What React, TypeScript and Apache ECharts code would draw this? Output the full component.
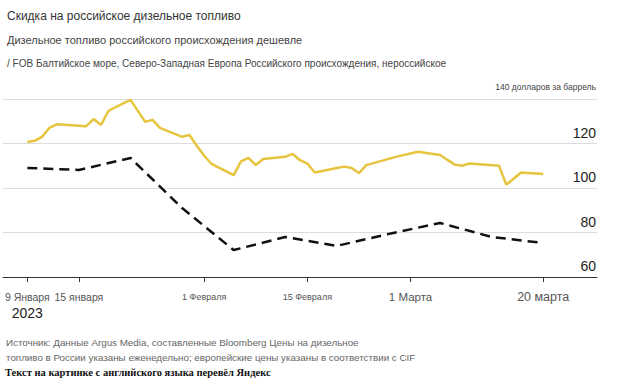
import React, { useEffect, useRef } from "react";
import * as echarts from "echarts";

// X axis: days counted from 9 January 2023
const tickDays = [0, 7, 24, 38, 52, 70];
const tickLabels = ["9 Января", "15 января", "1 Февраля", "15 Февраля", "1 Марта", "20 марта"];
const yearLabel = "2023";

// Northwest Europe diesel, non-Russian origin (daily)
const europeDays = [0, 1, 2, 3, 4, 7, 8, 9, 10, 11, 12, 14, 16, 17, 18, 21, 22, 23, 24, 25, 28, 29, 30, 31, 32, 35, 36, 37, 38, 39, 42, 43, 44, 45, 46, 50, 53, 56, 58, 59, 60, 64, 65, 67, 70];
const europeValues = [120.7, 121.2, 123, 127, 128.6, 128, 127.8, 131, 128.3, 134.6, 136.4, 139.6, 129.7, 130.6, 127, 123, 123.8, 119, 114.5, 110.8, 105.8, 112, 113.5, 110.3, 113, 114, 115.3, 112.5, 111, 107, 109, 109.6, 109, 106.7, 110.3, 114, 116.3, 114.8, 110.5, 110, 111, 110, 101.5, 107, 106.3];

// Baltic FOB, Russian origin (weekly)
const russiaDays = [0, 7, 14, 21, 28, 35, 42, 49, 56, 63, 70];
const russiaValues = [109, 108.1, 113.5, 91, 72.1, 78, 74, 79.3, 84.3, 78, 75.3];

// Y axis
const yMin = 60;
const yMax = 140;
const yStep = 20;
const yTopUnit = "долларов за баррель";

const titleText = "Скидка на российское дизельное топливо";
const subtitle1 = "Дизельное топливо российского происхождения дешевле";
const subtitle2 = "/ FOB Балтийское море, Северо-Западная Европа Российского происхождения, нероссийское";
const source1 = "Источник: Данные Argus Media, составленные Bloomberg Цены на дизельное";
const source2 = "топливо в России указаны еженедельно; европейские цены указаны в соответствии с CIF";
const credit = "Текст на картинке с английского языка перевёл Яндекс";

const SANS = "'Liberation Sans', Arial, Helvetica, sans-serif";
const SERIF = "'Liberation Serif', 'Times New Roman', serif";

export default function App() {
  const ref = useRef<HTMLDivElement>(null);

  useEffect(() => {
    if (!ref.current) return;
    const chart = echarts.init(ref.current, undefined, { renderer: "svg" });
    const labelStyleKeys = ["a", "a", "b", "b", "c", "d"];

    const option: any = {
      animation: false,
      backgroundColor: "#ffffff",
      textStyle: { fontFamily: SANS },
      title: [
        { text: titleText, left: 2, top: 5, textStyle: { fontSize: 12, fontWeight: "normal", color: "#333", fontFamily: SANS } },
        { text: subtitle1, left: 2, top: 29, textStyle: { fontSize: 11, fontWeight: "normal", color: "#444", fontFamily: SANS } },
        { text: subtitle2, left: 2, top: 53, textStyle: { fontSize: 10, fontWeight: "normal", color: "#444", fontFamily: SANS } },
        { text: source1, left: 1, top: 332, textStyle: { fontSize: 9.8, fontWeight: "normal", color: "#666", fontFamily: SANS } },
        { text: source2, left: 1, top: 347, textStyle: { fontSize: 9.8, fontWeight: "normal", color: "#666", fontFamily: SANS } },
        { text: credit, left: 0, top: 362, textStyle: { fontSize: 10.5, fontWeight: "bold", color: "#111", fontFamily: SERIF } },
      ],
      grid: { left: 3, right: 23, top: 99, bottom: 111, containLabel: false },
      xAxis: {
        type: "value",
        min: -3.3,
        max: 77.3,
        splitLine: { show: false },
        axisLine: { show: true, lineStyle: { color: "#333", width: 1 } },
        axisTick: { show: true, length: 5, customValues: tickDays, lineStyle: { color: "#333" } },
        axisLabel: {
          customValues: tickDays,
          margin: 13,
          hideOverlap: false,
          color: "#555",
          formatter: (v: number) => {
            const i = tickDays.indexOf(v);
            if (i < 0) return "";
            const k = labelStyleKeys[i];
            return i === 0 ? `{${k}|${tickLabels[i]}}\n{y|${yearLabel}}` : `{${k}|${tickLabels[i]}}`;
          },
          rich: {
            a: { fontSize: 10.5, color: "#555", lineHeight: 13, fontFamily: SANS },
            b: { fontSize: 9, color: "#555", lineHeight: 13, fontFamily: SANS },
            c: { fontSize: 11.5, color: "#555", lineHeight: 13, fontFamily: SANS },
            d: { fontSize: 12.5, color: "#555", lineHeight: 13, fontFamily: SANS },
            y: { fontSize: 14, color: "#222", lineHeight: 20, fontFamily: SANS },
          },
        },
      },
      yAxis: {
        type: "value",
        position: "right",
        min: yMin,
        max: yMax,
        interval: yStep,
        axisLine: { show: false },
        axisTick: { show: false },
        splitLine: { show: true, lineStyle: { color: "#dcdcdc", width: 1 } },
        axisLabel: {
          inside: true,
          margin: 1,
          verticalAlign: "bottom",
          formatter: (v: number) => (v === yMax ? `{s|${v} ${yTopUnit}}` : `{r|${v}}`),
          rich: {
            r: { fontSize: 14, color: "#222", padding: [0, 0, 4, 0], fontFamily: SANS },
            s: { fontSize: 8.5, color: "#444", padding: [0, 0, 8, 0], fontFamily: SANS },
          },
        },
      },
      series: [
        {
          name: "Северо-Западная Европа, нероссийское",
          type: "line",
          data: europeDays.map((d, i) => [d, europeValues[i]]),
          showSymbol: false,
          lineStyle: { color: "#e6c43e", width: 2.5 },
          itemStyle: { color: "#e6c43e" },
        },
        {
          name: "FOB Балтийское море, российское",
          type: "line",
          data: russiaDays.map((d, i) => [d, russiaValues[i]]),
          showSymbol: false,
          lineStyle: { color: "#111", width: 2.5, type: [10, 6] },
          itemStyle: { color: "#111" },
        },
      ],
    };

    chart.setOption(option);
    return () => chart.dispose();
  }, []);

  return (
    <div
      ref={ref}
      style={{ position: "fixed", left: 0, top: 0, width: 620, height: 388, background: "#fff" }}
    />
  );
}
